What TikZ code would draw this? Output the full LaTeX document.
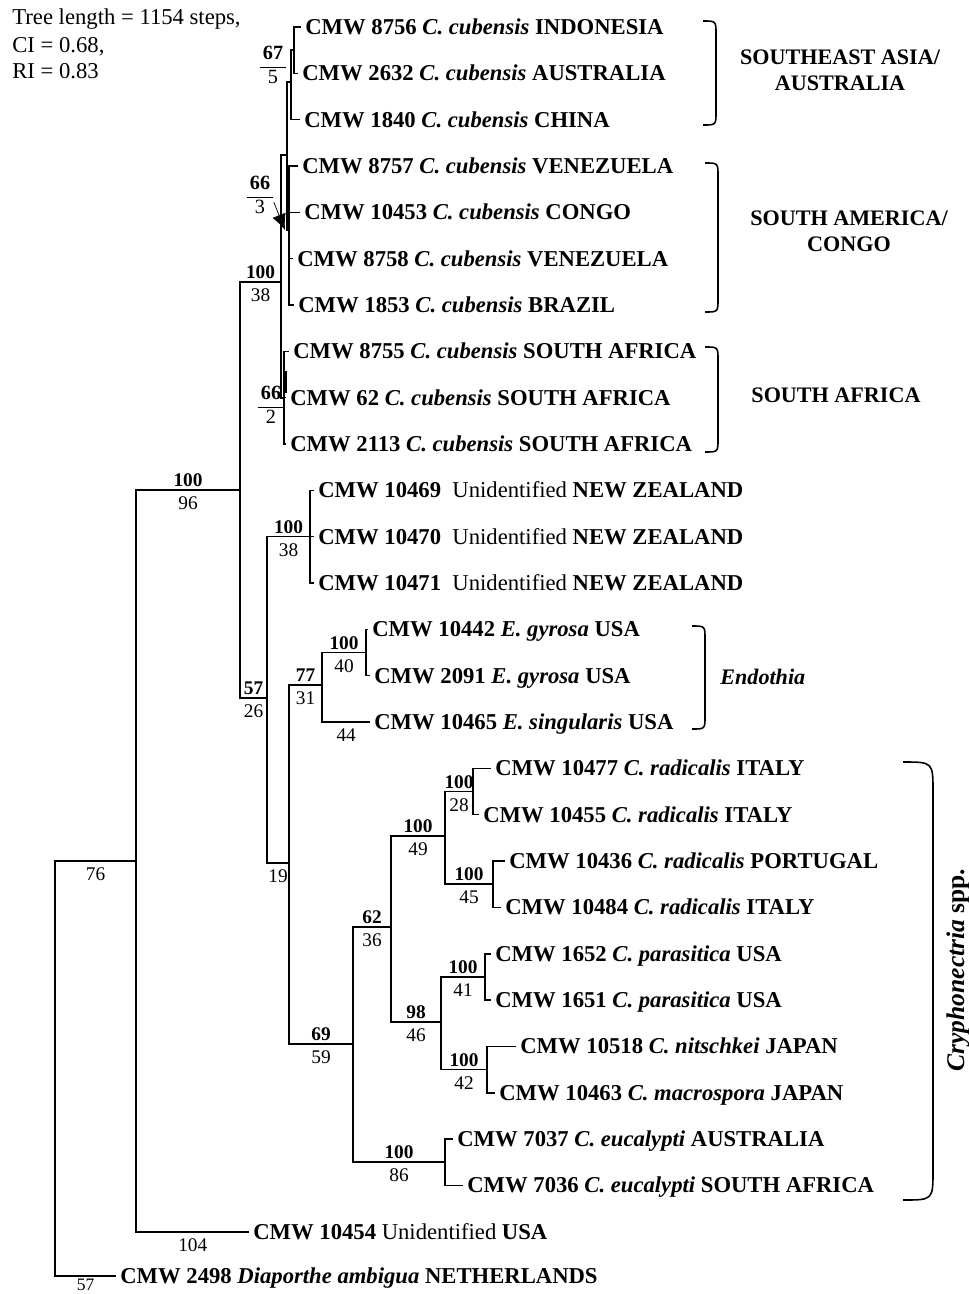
\documentclass[tikz,border=0pt]{standalone}
\usepackage{fontspec}
\setmainfont{Liberation Serif}
\usetikzlibrary{arrows.meta}

\newcommand\bsfrac[2]{\begin{tabular}{@{\,}c@{\,}}\textbf{#1}\\\hline #2\end{tabular}}

\tikzset{
  tip/.style={anchor=west, inner sep=0pt, text height=8.5pt, text depth=0pt,
    font=\fontsize{12.9}{14.7}\selectfont\bfseries},
  hdr/.style={tip, font=\fontsize{12.9}{14.7}\selectfont},
  bsu/.style={pos=0.75, above, inner sep=0pt, yshift=1.4pt,
    font=\fontsize{11}{13}\selectfont\bfseries},
  bsd/.style={pos=0.75, below, inner sep=0pt, yshift=-3.4pt,
    font=\fontsize{11}{13}\selectfont},
  frac/.style={inner sep=0pt, font=\fontsize{11.5}{13}\selectfont},
  br/.style={line width=0.9pt},
  brace/.style={line width=0.9pt},
  clade/.style={inner sep=0pt, align=center,
    font=\fontsize{12.6}{14.7}\selectfont\bfseries},
  pointer/.style={line width=0.4pt, -{Latex[length=9pt,width=8pt]}}
}

\begin{document}
\begin{tikzpicture}[x=0.02cm, y=-0.02cm]
\useasboundingbox (0,0) rectangle (969,1294);

\node[hdr] (len) at (12,17) {Tree length = 1154 steps,};
\node[hdr] (ci) at (12,45) {CI = 0.68,};
\node[hdr] (ri) at (12,71) {RI = 0.83};

% taxa
\node[tip] (t8756) at (305,27) {CMW 8756 \textit{C. cubensis} INDONESIA};
\node[tip] (t2632) at (302,73.3) {CMW 2632 \textit{C. cubensis} AUSTRALIA};
\node[tip] (t1840) at (304,119.7) {CMW 1840 \textit{C. cubensis} CHINA};
\node[tip] (t8757) at (302,166) {CMW 8757 \textit{C. cubensis} VENEZUELA};
\node[tip] (t10453) at (304,212.3) {CMW 10453 \textit{C. cubensis} CONGO};
\node[tip] (t8758) at (297,258.7) {CMW 8758 \textit{C. cubensis} VENEZUELA};
\node[tip] (t1853) at (298,305) {CMW 1853 \textit{C. cubensis} BRAZIL};
\node[tip] (t8755) at (293,351.3) {CMW 8755 \textit{C. cubensis} SOUTH AFRICA};
\node[tip] (t62) at (290,397.7) {CMW 62 \textit{C. cubensis} SOUTH AFRICA};
\node[tip] (t2113) at (290,444) {CMW 2113 \textit{C. cubensis} SOUTH AFRICA};
\node[tip] (t10469) at (318,490.3) {CMW 10469\ \ \textmd{Unidentified} NEW ZEALAND};
\node[tip] (t10470) at (318,536.7) {CMW 10470\ \ \textmd{Unidentified} NEW ZEALAND};
\node[tip] (t10471) at (318,583) {CMW 10471\ \ \textmd{Unidentified} NEW ZEALAND};
\node[tip] (t10442) at (372,629.3) {CMW 10442 \textit{E. gyrosa} USA};
\node[tip] (t2091) at (374,675.7) {CMW 2091 \textit{E. gyrosa} USA};
\node[tip] (t10465) at (374,722) {CMW 10465 \textit{E. singularis} USA};
\node[tip] (t10477) at (495,768.3) {CMW 10477 \textit{C. radicalis} ITALY};
\node[tip] (t10455) at (483,814.7) {CMW 10455 \textit{C. radicalis} ITALY};
\node[tip] (t10436) at (509,861) {CMW 10436 \textit{C. radicalis} PORTUGAL};
\node[tip] (t10484) at (505,907.3) {CMW 10484 \textit{C. radicalis} ITALY};
\node[tip] (t1652) at (495,953.7) {CMW 1652 \textit{C. parasitica} USA};
\node[tip] (t1651) at (495,1000) {CMW 1651 \textit{C. parasitica} USA};
\node[tip] (t10518) at (520,1046.3) {CMW 10518 \textit{C. nitschkei} JAPAN};
\node[tip] (t10463) at (499,1092.7) {CMW 10463 \textit{C. macrospora} JAPAN};
\node[tip] (t7037) at (457,1139) {CMW 7037 \textit{C. eucalypti} AUSTRALIA};
\node[tip] (t7036) at (467,1185.3) {CMW 7036 \textit{C. eucalypti} SOUTH AFRICA};
\node[tip] (t10454) at (253,1231.7) {CMW 10454 \textmd{Unidentified} USA};
\node[tip] (t2498) at (120,1276) {CMW 2498 \textit{Diaporthe ambigua} NETHERLANDS};

\foreach \t in {8756,2632,1840,8757,10453,8758,1853,8755,62,2113,10469,10470,
  10471,10442,2091,10465,10477,10455,10436,10484,1652,1651,10518,10463,7037,
  7036,10454,2498}
  \coordinate (e\t) at ([xshift=-2pt]t\t.west);

% internal nodes
\coordinate (root) at (55,1069);
\coordinate (n1) at (136,861);
\coordinate (n2) at (240,490);
\coordinate (n3) at (281,282);
\coordinate (nF) at (287,155);
\coordinate (nB) at (291,82);
\coordinate (nA) at (294,50);
\coordinate (nD) at (289,230);
\coordinate (nG) at (284,398);
\coordinate (n4) at (267,698);
\coordinate (n5) at (310,536.7);
\coordinate (n6) at (289,863);
\coordinate (n7) at (322,685);
\coordinate (n8) at (366,652.5);
\coordinate (n9) at (353,1044);
\coordinate (n10) at (391,927);
\coordinate (n11) at (445,836);
\coordinate (n12) at (473,791.5);
\coordinate (n13) at (493,884);
\coordinate (n14) at (441,1022);
\coordinate (n15) at (485,977);
\coordinate (n16) at (487,1069.5);
\coordinate (n17) at (445,1162);

% branches
\draw[br] (root) |- node[bsd]{76} (n1)
  (root) |- node[bsd, yshift=2.4pt, font=\fontsize{10}{12}\selectfont]{57} (e2498);
\draw[br] (n1) |- node[bsu]{100} node[bsd]{96} (n2) (n1) |- node[bsd]{104} (e10454);
\draw[br] (n2) |- node[bsu]{100} node[bsd]{38} (n3) (n2) |- node[bsu]{57} node[bsd]{26} (n4);
\draw[br] (n3) |- (nF) (n3) |- (nG);
\draw[br] (nF) |- (nB) (nF) |- (nD);
\draw[br] (nB) |- (nA) (nB) |- (e1840);
\draw[br] (nA) |- (e8756) (nA) |- (e2632);
\draw[br] (nD) |- (e8757) (nD) |- (e10453) (nD) |- (e8758) (nD) |- (e1853);
\draw[br] (nG) |- (e8755) (nG) |- (e62) (nG) |- (e2113);
\draw[line width=2pt] (285,371) -- (285,393);
\draw[br] (n4) |- node[bsu]{100} node[bsd]{38} (n5) (n4) |- node[bsd]{19} (n6);
\draw[br] (n5) |- (e10469) (n5) |- (e10470) (n5) |- (e10471);
\draw[br] (n6) |- node[bsu]{77} node[bsd]{31} (n7) (n6) |- node[bsu]{69} node[bsd]{59} (n9);
\draw[br] (n7) |- node[bsu]{100} node[bsd]{40} (n8) (n7) |- node[bsd]{44} (e10465);
\draw[br] (n8) |- (e10442) (n8) |- (e2091);
\draw[br] (n9) |- node[bsu]{62} node[bsd]{36} (n10) (n9) |- node[bsu]{100} node[bsd]{86} (n17);
\draw[br] (n10) |- node[bsu]{100} node[bsd]{49} (n11) (n10) |- node[bsu]{98} node[bsd]{46} (n14);
\draw[br] (n11) |- node[bsu]{100} node[bsd]{28} (n12) (n11) |- node[bsu]{100} node[bsd]{45} (n13);
\draw[br] (n12) |- (e10477) (n12) |- (e10455);
\draw[br] (n13) |- (e10436) (n13) |- (e10484);
\draw[br] (n14) |- node[bsu]{100} node[bsd]{41} (n15) (n14) |- node[bsu]{100} node[bsd]{42} (n16);
\draw[br] (n15) |- (e1652) (n15) |- (e1651);
\draw[br] (n16) |- (e10518) (n16) |- (e10463);
\draw[br] (n17) |- (e7037) (n17) |- (e7036);

% support values of the cubensis clades
\node[frac] (f67) at (273,67) {\bsfrac{67}{5}};
\node[frac] (f66a) at (260,197) {\bsfrac{66}{3}};
\node[frac] (f66b) at (271,407) {\bsfrac{66}{2}};
\coordinate (pF) at (285,230);
\draw[pointer] ([yshift=-3pt]f66a.east) -- (pF);

% braces and groups
\draw[brace] (703,21) .. controls (716,21) .. (716,34) -- (716,112) .. controls (716,125) .. (703,125);
\draw[brace] (705,163) .. controls (718,163) .. (718,176) -- (718,299) .. controls (718,312) .. (705,312);
\draw[brace] (705,347) .. controls (718,347) .. (718,360) -- (718,439) .. controls (718,452) .. (705,452);
\draw[brace] (692,626) .. controls (705,626) .. (705,639) -- (705,716) .. controls (705,729) .. (692,729);
\draw[brace] (903,762) .. controls (933,762) .. (933,792) -- (933,1170) .. controls (933,1200) .. (903,1200);

\node[clade] (cSEA) at (840,70) {SOUTHEAST ASIA/\\AUSTRALIA};
\node[clade] (cSAM) at (849,231) {SOUTH AMERICA/\\CONGO};
\node[clade] (cSAF) at (836,395) {SOUTH AFRICA};
\node[clade, anchor=west] (cEnd) at (720,677) {\textit{Endothia}};
\node[clade, rotate=90, font=\fontsize{14.5}{16}\selectfont\bfseries] (cCry) at (958,970) {\textit{Cryphonectria} spp.};
\end{tikzpicture}
\end{document}
